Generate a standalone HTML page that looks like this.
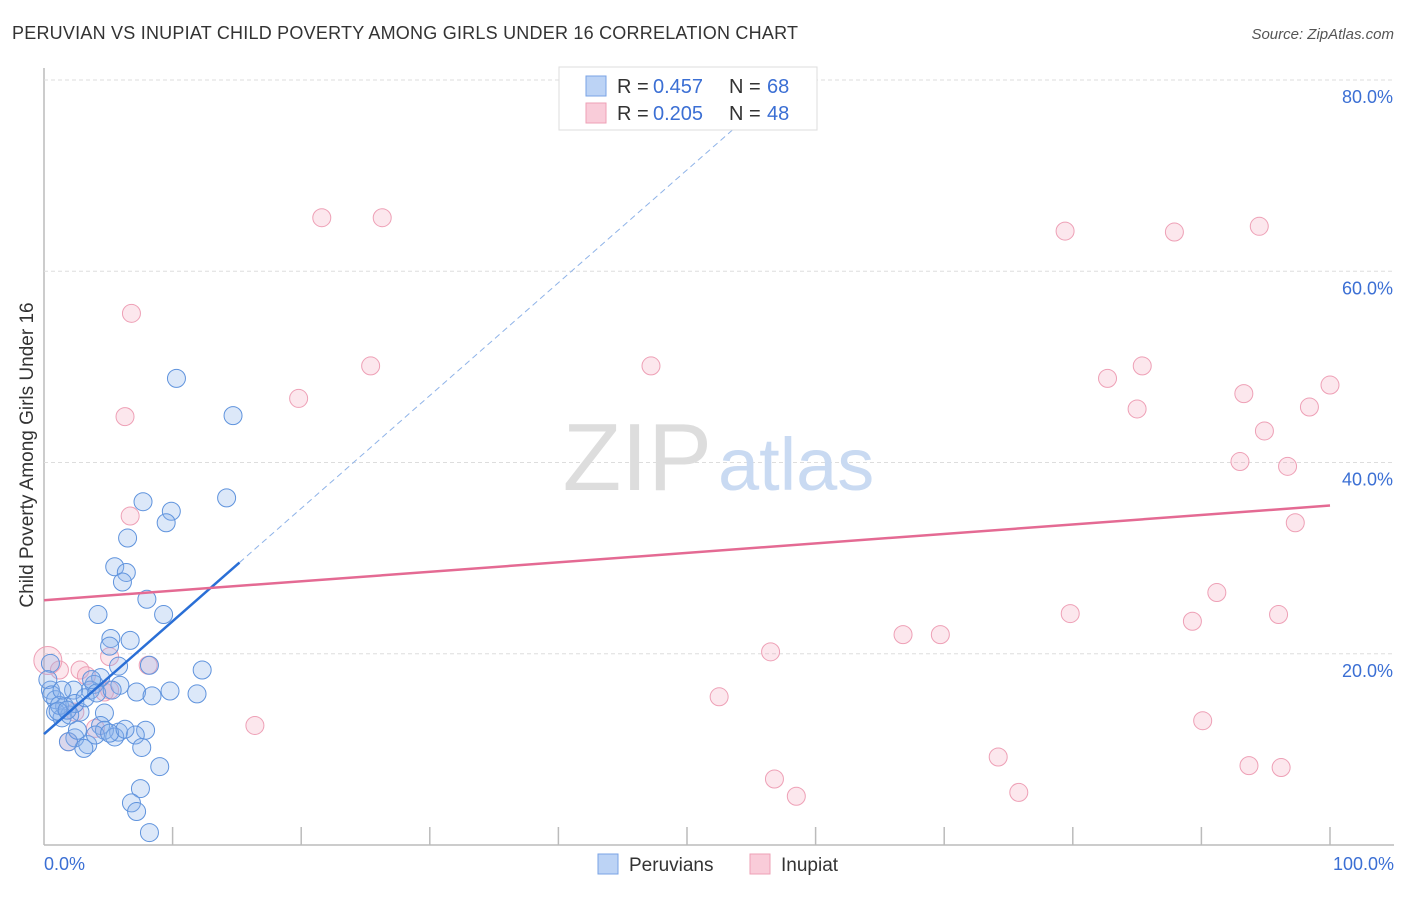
<!DOCTYPE html>
<html><head><meta charset="utf-8"><style>
body{margin:0;background:#fff;font-family:"Liberation Sans",sans-serif;}
svg text{font-family:"Liberation Sans",sans-serif;}
</style></head><body>
<svg width="1406" height="892" xmlns="http://www.w3.org/2000/svg">
<text x="12" y="39" font-size="18" fill="#333" textLength="786">PERUVIAN VS INUPIAT CHILD POVERTY AMONG GIRLS UNDER 16 CORRELATION CHART</text>
<text x="1394" y="39" font-size="15" fill="#555" font-style="italic" text-anchor="end">Source: ZipAtlas.com</text>
<g id="grid"></g>
<text x="712" y="490" font-size="96" fill="#ddd" text-anchor="end" font-family="Liberation Serif">ZIP</text>
<text x="718" y="490" font-size="74" fill="#c9daf2">atlas</text>
<g id="pts"></g>
<g id="lines"></g>
<text x="33" y="455" font-size="19" fill="#333" text-anchor="middle" transform="rotate(-90 33 455)">Child Poverty Among Girls Under 16</text>
<text x="44" y="870" font-size="18" fill="#3b6fd4">0.0%</text>
<text x="1394" y="870" font-size="18" fill="#3b6fd4" text-anchor="end">100.0%</text>
<g>
<rect x="559" y="67" width="258" height="63" fill="#fff" stroke="#ddd"/>
<rect x="586" y="76" width="20" height="20" fill="#bcd3f5" stroke="#7aa3e5"/>
<rect x="586" y="103" width="20" height="20" fill="#f9ccd9" stroke="#eea0b6"/>
<text x="617" y="93" font-size="20" fill="#333">R =</text>
<text x="653" y="93" font-size="20" fill="#3b6fd4">0.457</text>
<text x="729" y="93" font-size="20" fill="#333">N =</text>
<text x="767" y="93" font-size="20" fill="#3b6fd4">68</text>
<text x="617" y="120" font-size="20" fill="#333">R =</text>
<text x="653" y="120" font-size="20" fill="#3b6fd4">0.205</text>
<text x="729" y="120" font-size="20" fill="#333">N =</text>
<text x="767" y="120" font-size="20" fill="#3b6fd4">48</text>
</g>
<g>
<rect x="598" y="854" width="20" height="20" fill="#bcd3f5" stroke="#7aa3e5"/>
<text x="629" y="871" font-size="19" fill="#333">Peruvians</text>
<rect x="750" y="854" width="20" height="20" fill="#f9ccd9" stroke="#eea0b6"/>
<text x="781" y="871" font-size="19" fill="#333">Inupiat</text>
</g>
</svg>
<script>
const yTicks=[20,40,60,80];
const xTicks=[0,10,20,30,40,50,60,70,80,90,100];
const blueX=[10.3,14.7,14.2,7.7,9.9,9.5,6.5,5.5,6.4,6.1,8.0,4.2,9.3,5.2,6.7,5.1,8.2,12.3,5.8,4.4,3.9,5.9,7.2,9.8,8.4,11.9,3.6,2.3,0.5,0.9,1.6,2.8,4.7,0.9,1.4,2.0,4.4,5.8,4.7,7.9,7.1,5.5,2.4,3.4,3.1,1.9,7.6,9.0,7.5,6.8,7.2,8.2,0.5,0.3,0.6,1.2,2.4,3.2,3.7,4.1,5.3,1.4,1.1,1.8,2.6,4.0,5.1,6.3];
const blueY=[48.8,44.9,36.3,35.9,34.9,33.7,32.1,29.1,28.5,27.5,25.7,24.1,24.1,21.6,21.4,20.8,18.8,18.3,18.7,17.5,16.8,16.7,16.0,16.1,15.6,15.8,16.2,16.2,16.2,15.2,14.5,13.9,13.8,13.9,13.3,13.6,12.5,11.8,12.0,12.0,11.5,11.3,11.2,10.5,10.1,10.8,10.2,8.2,5.9,4.4,3.5,1.3,19.0,17.3,15.7,14.6,14.8,15.4,17.3,15.9,16.2,16.2,14.0,14.1,12.0,11.5,11.7,12.1];
const pinkX=[21.6,26.3,6.8,6.3,19.8,25.4,47.2,6.7,79.4,87.9,94.5,82.7,85.4,85.0,93.3,94.9,93.0,96.7,98.4,100,97.3,91.2,79.8,89.3,96.0,66.8,69.7,56.5,52.5,16.4,56.8,58.5,74.2,75.8,90.1,93.7,96.2,0.3,1.2,2.8,3.3,5.1,8.1,4.7,2.4,4.0,1.9,5.1];
const pinkY=[65.6,65.6,55.6,44.8,46.7,50.1,50.1,34.4,64.2,64.1,64.7,48.8,50.1,45.6,47.2,43.3,40.1,39.6,45.8,48.1,33.7,26.4,24.2,23.4,24.1,22.0,22.0,20.2,15.5,12.5,6.9,5.1,9.2,5.5,13.0,8.3,8.1,19.3,18.3,18.3,17.7,19.7,18.8,16.0,13.9,12.2,10.8,16.2];
const blueFit=[11.6,1.18];
const pinkFit=[25.6,0.099];
const NS="http://www.w3.org/2000/svg";
const X=v=>44+v*12.86, Y=v=>845-v*9.5625;
function mk(t,a,p){const e=document.createElementNS(NS,t);for(const k in a)e.setAttribute(k,a[k]);p.appendChild(e);return e;}
const g=document.getElementById('grid');
const yl=mk('line',{x1:44,y1:68,x2:44,y2:845,stroke:'#bbb','stroke-width':1.5},g);


const xl=mk('line',{x1:44,y1:845,x2:1394,y2:845,stroke:'#bbb','stroke-width':1.5},g);


yTicks.forEach(t=>{
 const l=mk('line',{x1:44,y1:Y(t),x2:1394,y2:Y(t),stroke:'#ddd','stroke-dasharray':'4,3'},g);
 
 
 const tx=mk('text',{x:1393,y:Y(t)+23,'font-size':18,fill:'#3b6fd4','text-anchor':'end'},g);
 tx.textContent=t.toFixed(1)+'%';
 
 
});
xTicks.forEach(t=>{if(t===0)return;
 const l=mk('line',{x1:X(t),y1:827,x2:X(t),y2:845,stroke:'#bbb','stroke-width':1.5},g);
 
 
});
const p=document.getElementById('pts');
pinkX.forEach((x,i)=>{
 const c=mk('circle',{cx:X(x),cy:Y(pinkY[i]),r:(x<0.5?14:9),fill:'rgba(244,160,185,0.25)',stroke:'#eea0b6','stroke-width':1},p);
 
 
});
blueX.forEach((x,i)=>{
 const c=mk('circle',{cx:X(x),cy:Y(blueY[i]),r:9,fill:'rgba(140,180,235,0.3)',stroke:'#5f93dd','stroke-width':1},p);
 
 
});
const L=document.getElementById('lines');
const bx2=15.2, bxe=(80-blueFit[0])/blueFit[1];
const b1=mk('line',{x1:X(0),y1:Y(blueFit[0]),x2:X(bx2),y2:Y(blueFit[0]+blueFit[1]*bx2),stroke:'#2a6fd6','stroke-width':2.5},L);


const b2=mk('line',{x1:X(bx2),y1:Y(blueFit[0]+blueFit[1]*bx2),x2:X(bxe),y2:Y(80),stroke:'#8fb3e8','stroke-width':1,'stroke-dasharray':'6,4'},L);


const pl=mk('line',{x1:X(0),y1:Y(pinkFit[0]),x2:X(100),y2:Y(pinkFit[0]+pinkFit[1]*100),stroke:'#e46a93','stroke-width':2.5},L);


</script>
</body></html>
